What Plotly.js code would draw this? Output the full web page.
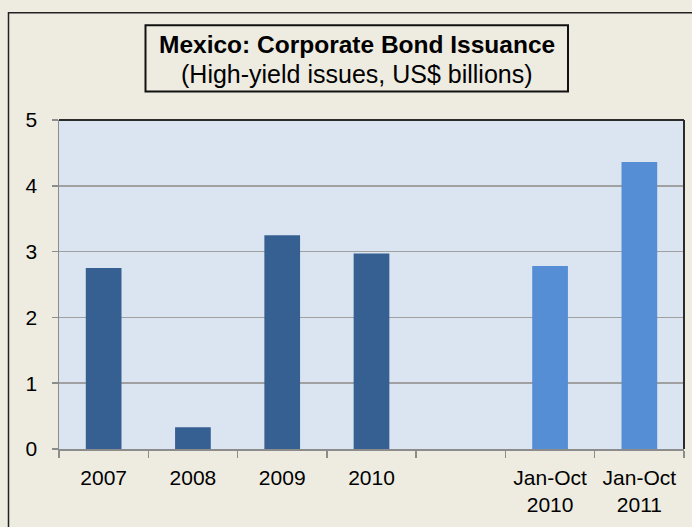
<!DOCTYPE html>
<html>
<head>
<meta charset="utf-8">
<script src="https://cdn.plot.ly/plotly-3.0.1.min.js"></script>
<style>
html,body{margin:0;padding:0;background:#eeece1;}
#chart{width:692px;height:527px;}
</style>
</head>
<body>
<div id="chart"></div>
<script>
// Categories on the x axis (one blank gap slot)
const categories = ['2007', '2008', '2009', '2010', ' ', 'Jan-Oct<br>2010', 'Jan-Oct<br>2011'];
// Annual series
const annualCats = ['2007', '2008', '2009', '2010'];
const annualValues = [2.75, 0.33, 3.25, 2.97];
// Year-to-date series
const ytdCats = ['Jan-Oct<br>2010', 'Jan-Oct<br>2011'];
const ytdValues = [2.78, 4.36];
const yTicks = [0, 1, 2, 3, 4, 5];
const titleText = 'Mexico: Corporate Bond Issuance';
const subtitleText = '(High-yield issues, US$ billions)';

const W = 692, H = 527;
const L = 59, R = 684, T = 119.5, B = 449;
const px = x => (x - L) / (R - L);
const py = y => (B - y) / (B - T);

const traces = [
  {type: 'bar', x: annualCats, y: annualValues, width: 0.4,
   marker: {color: '#376092'}, hoverinfo: 'x+y'},
  {type: 'bar', x: ytdCats, y: ytdValues, width: 0.4,
   marker: {color: '#558ed5'}, hoverinfo: 'x+y'}
];

const FONT = "'Liberation Sans', Arial, Helvetica, sans-serif";

const layout = {
  width: W, height: H,
  margin: {l: L, r: W - R, t: T, b: H - B, pad: 0},
  paper_bgcolor: '#eeece1',
  plot_bgcolor: '#dbe5f1',
  showlegend: false,
  barmode: 'overlay',
  font: {family: FONT, color: '#000'},
  xaxis: {
    type: 'category', categoryorder: 'array', categoryarray: categories,
    range: [-0.5, categories.length - 0.5],
    tickson: 'boundaries', ticks: 'outside', ticklen: 7, tickcolor: '#8c8c8c', tickwidth: 1.5,
    showgrid: false, showline: true, linecolor: '#8c8c8c', linewidth: 1.5,
    tickfont: {family: FONT, size: 21, color: '#000'}, ticklabelstandoff: 9,
    zeroline: false, fixedrange: true
  },
  yaxis: {
    range: [0, 5], tickvals: yTicks, ticktext: yTicks.map(String),
    ticks: 'outside', ticklen: 6, tickcolor: '#8c8c8c', tickwidth: 1.5,
    showgrid: true, gridcolor: '#a0a0a0', gridwidth: 1.5,
    showline: true, linecolor: '#8c8c8c', linewidth: 1.5,
    zeroline: false, tickfont: {family: FONT, size: 21, color: '#000'}, ticklabelstandoff: 10,
    fixedrange: true
  },
  shapes: [
    // plot area top & right dark border
    {type: 'line', xref: 'paper', yref: 'paper', x0: 0, x1: 1, y0: 1, y1: 1,
     line: {color: '#2b2b2b', width: 2}},
    {type: 'line', xref: 'paper', yref: 'paper', x0: 1, x1: 1, y0: 0, y1: 1,
     line: {color: '#2b2b2b', width: 2}},
    // outer chart border
    {type: 'rect', xref: 'paper', yref: 'paper',
     x0: px(8.5), x1: px(700), y0: py(540), y1: py(12),
     line: {color: '#222', width: 1.5}, fillcolor: 'rgba(0,0,0,0)'},
    // title box
    {type: 'rect', xref: 'paper', yref: 'paper',
     x0: px(145.5), x1: px(568), y0: py(91), y1: py(24.5),
     line: {color: '#111', width: 2}, fillcolor: 'rgba(0,0,0,0)'}
  ],
  annotations: [
    {xref: 'paper', yref: 'paper', x: px(356.5), y: py(43.5),
     xanchor: 'center', yanchor: 'middle', showarrow: false,
     text: '<b>' + titleText + '</b>',
     font: {family: FONT, size: 24.5, color: '#000'}},
    {xref: 'paper', yref: 'paper', x: px(356.5), y: py(73),
     xanchor: 'center', yanchor: 'middle', showarrow: false,
     text: subtitleText,
     font: {family: FONT, size: 25, color: '#000'}}
  ]
};

Plotly.newPlot('chart', traces, layout, {displayModeBar: false, staticPlot: true});
</script>
</body>
</html>
